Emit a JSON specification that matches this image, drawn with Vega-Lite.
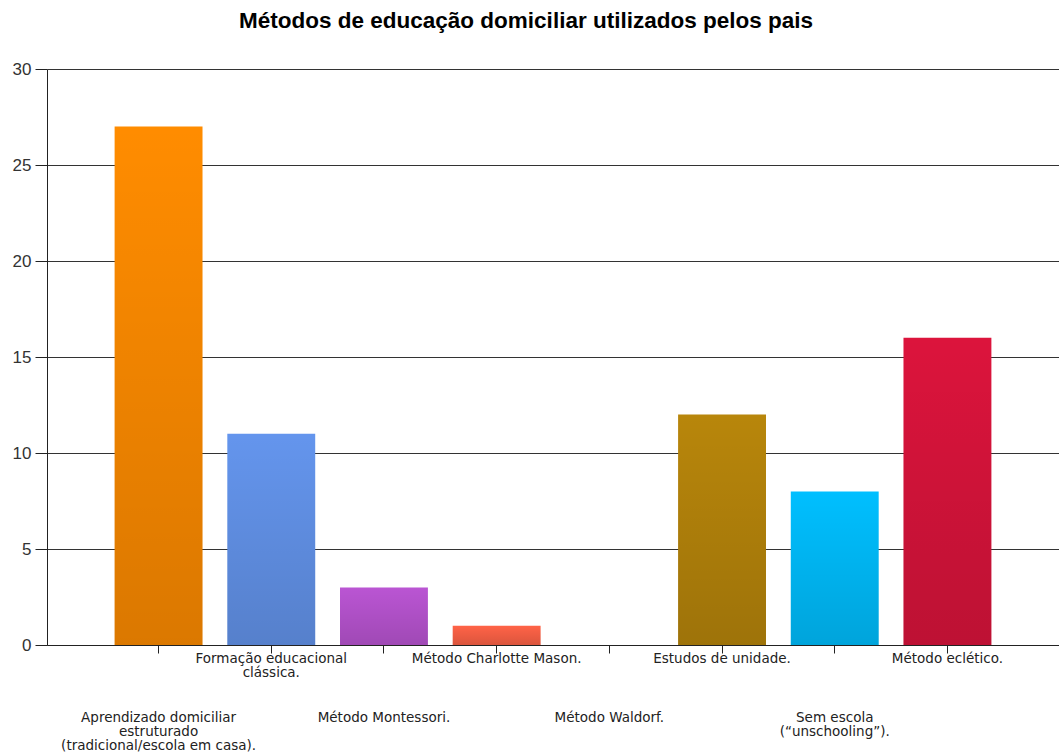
{
  "$schema": "https://vega.github.io/schema/vega-lite/v6.json",
  "autosize": "none",
  "width": 1012,
  "height": 576,
  "padding": {"left": 47, "top": 69, "right": 0, "bottom": 111},
  "background": "#ffffff",
  "title": {
    "text": "Métodos de educação domiciliar utilizados pelos pais",
    "font": "Liberation Sans",
    "fontSize": 22.5,
    "fontWeight": "bold",
    "color": "#000000",
    "anchor": "middle",
    "frame": "group",
    "dx": -27,
    "offset": 28
  },
  "config": {
    "view": {"stroke": null}
  },
  "data": {
    "values": [
      {"metodo": "Aprendizado domiciliar estruturado (tradicional/escola em casa).", "valor": 27},
      {"metodo": "Formação educacional clássica.", "valor": 11},
      {"metodo": "Método Montessori.", "valor": 3},
      {"metodo": "Método Charlotte Mason.", "valor": 1},
      {"metodo": "Método Waldorf.", "valor": 0},
      {"metodo": "Estudos de unidade.", "valor": 12},
      {"metodo": "Sem escola (“unschooling”).", "valor": 8},
      {"metodo": "Método eclético.", "valor": 16}
    ]
  },
  "encoding": {
    "x": {
      "field": "metodo",
      "type": "nominal",
      "sort": null,
      "scale": {"paddingInner": 0.22, "paddingOuter": 0.6},
      "axis": {
        "title": null,
        "labelAngle": 0,
        "labelFont": "DejaVu Sans",
        "labelFontSize": 13.5,
        "labelColor": "#222222",
        "labelLineHeight": 14,
        "labelLimit": 400,
        "labelOverlap": false,
        "labelPadding": {
          "condition": {
            "test": "indexof(['Aprendizado domiciliar estruturado (tradicional/escola em casa).', 'Método Montessori.', 'Método Waldorf.', 'Sem escola (“unschooling”).'], datum.value) >= 0",
            "value": 57
          },
          "value": -2
        },
        "labelBaseline": "top",
        "tickSize": 8,
        "tickColor": "#222222",
        "tickWidth": 1,
        "domainColor": "#222222",
        "domainWidth": 1,
        "grid": false,
        "labelExpr": "datum.value == 'Aprendizado domiciliar estruturado (tradicional/escola em casa).' ? ['Aprendizado domiciliar','estruturado','(tradicional/escola em casa).'] : datum.value == 'Formação educacional clássica.' ? ['Formação educacional','clássica.'] : datum.value == 'Sem escola (“unschooling”).' ? ['Sem escola','(“unschooling”).'] : datum.value"
      }
    },
    "y": {
      "field": "valor",
      "type": "quantitative",
      "scale": {"domain": [0, 30], "nice": false},
      "axis": {
        "title": null,
        "values": [0, 5, 10, 15, 20, 25, 30],
        "labelFont": "Liberation Sans",
        "labelFontSize": 17,
        "labelColor": "#333333",
        "labelPadding": 4,
        "tickSize": 12,
        "tickColor": "#222222",
        "domainColor": "#222222",
        "grid": true,
        "gridColor": "#333333",
        "gridWidth": 1.2
      }
    }
  },
  "layer": [
    {
      "mark": {"type": "bar"},
      "encoding": {
        "color": {
          "field": "metodo",
          "type": "nominal",
          "legend": null,
          "scale": {
            "domain": [
              "Aprendizado domiciliar estruturado (tradicional/escola em casa).",
              "Formação educacional clássica.",
              "Método Montessori.",
              "Método Charlotte Mason.",
              "Método Waldorf.",
              "Estudos de unidade.",
              "Sem escola (“unschooling”).",
              "Método eclético."
            ],
            "range": ["#ff8c00", "#6495ed", "#ba55d3", "#ff6347", "#3cb371", "#b8860b", "#00bfff", "#dc143c"]
          }
        }
      }
    },
    {
      "mark": {
        "type": "bar",
        "color": {
          "gradient": "linear",
          "x1": 0, "y1": 0, "x2": 0, "y2": 1,
          "stops": [
            {"offset": 0, "color": "rgba(0,0,0,0)"},
            {"offset": 1, "color": "rgba(0,0,0,0.14)"}
          ]
        }
      }
    }
  ]
}
